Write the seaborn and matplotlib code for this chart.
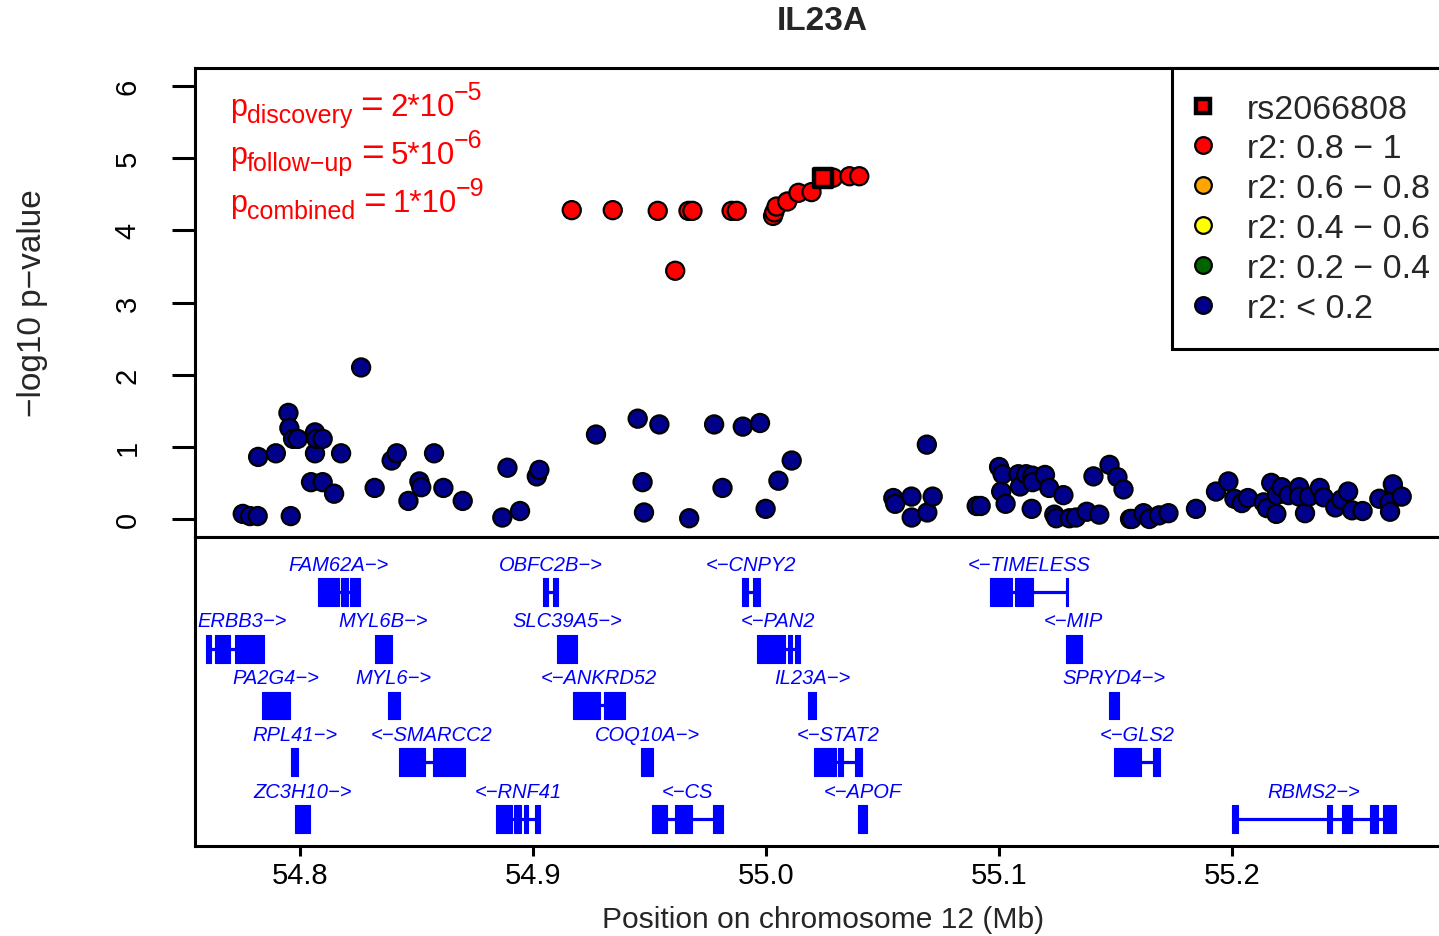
import numpy as np
import pandas as pd
import matplotlib
matplotlib.use("Agg")
import matplotlib.pyplot as plt
from matplotlib.lines import Line2D
from matplotlib import transforms as mtrans
import seaborn as sns

# ---------------- data ----------------
title = "IL23A"
xlabel = "Position on chromosome 12 (Mb)"
ylabel = "\u2212log10 p\u2212value"
x_ticks = [54.8, 54.9, 55.0, 55.1, 55.2]
y_ticks = [0, 1, 2, 3, 4, 5, 6]

blue_pos = [54.7754, 54.7785, 54.7818, 54.7820, 54.7896, 54.7950, 54.7954, 54.7960, 54.7970, 54.7990,
            54.8047, 54.8064, 54.8064, 54.8070, 54.8097, 54.8097, 54.8146, 54.8176, 54.8262, 54.8320,
            54.8393, 54.8415, 54.8465, 54.8512, 54.8520, 54.8575, 54.8615, 54.8698, 54.8868, 54.8890,
            54.8944, 54.9016, 54.9027, 54.9270, 54.9449, 54.9470, 54.9476, 54.9542, 54.9670, 54.9777,
            54.9813, 54.9900, 54.9974, 54.9998, 55.0053, 55.0110, 55.0546, 55.0554, 55.0624, 55.0625,
            55.0690, 55.0692, 55.0715, 55.0904, 55.0921, 55.1000, 55.1009, 55.1015, 55.1028, 55.1083,
            55.1090, 55.1116, 55.1140, 55.1143, 55.1144, 55.1197, 55.1215, 55.1237, 55.1245, 55.1276,
            55.1302, 55.1330, 55.1376, 55.1405, 55.1430, 55.1474, 55.1508, 55.1534, 55.1562, 55.1570,
            55.1620, 55.1645, 55.1687, 55.1727, 55.1845, 55.1931, 55.1984, 55.2010, 55.2042, 55.2068,
            55.2135, 55.2150, 55.2168, 55.2190, 55.2192, 55.2213, 55.2242, 55.2288, 55.2288, 55.2313,
            55.2330, 55.2376, 55.2393, 55.2443, 55.2469, 55.2498, 55.2515, 55.2560, 55.2632, 55.2675,
            55.2678, 55.2690, 55.2728]
blue_logp = [0.07, 0.04, 0.04, 0.86, 0.91, 1.47, 1.26, 0.04, 1.11, 1.11,
             0.51, 1.20, 0.91, 1.11, 1.11, 0.51, 0.35, 0.91, 2.10, 0.43,
             0.81, 0.91, 0.25, 0.52, 0.44, 0.91, 0.43, 0.25, 0.02, 0.71,
             0.11, 0.59, 0.68, 1.17, 1.39, 0.51, 0.09, 1.31, 0.01, 1.31,
             0.43, 1.28, 1.33, 0.14, 0.53, 0.81, 0.29, 0.21, 0.31, 0.02,
             1.03, 0.09, 0.31, 0.18, 0.18, 0.72, 0.38, 0.62, 0.21, 0.62,
             0.45, 0.62, 0.14, 0.60, 0.51, 0.61, 0.43, 0.06, 0.01, 0.33,
             0.01, 0.02, 0.10, 0.59, 0.06, 0.75, 0.58, 0.41, 0.00, 0.00,
             0.08, 0.00, 0.05, 0.08, 0.14, 0.38, 0.52, 0.28, 0.22, 0.29,
             0.23, 0.15, 0.50, 0.07, 0.33, 0.44, 0.33, 0.44, 0.31, 0.08,
             0.31, 0.43, 0.30, 0.16, 0.27, 0.38, 0.12, 0.11, 0.28, 0.23,
             0.10, 0.48, 0.31]

red_pos = [54.9166, 54.9342, 54.9535, 54.9610, 54.9667, 54.9684, 54.9852, 54.9874, 55.0030,
           55.0035, 55.0045, 55.0091, 55.0139, 55.0195, 55.0288, 55.0358, 55.0400]
red_logp = [4.28, 4.28, 4.27, 3.44, 4.27, 4.27, 4.27, 4.27, 4.20,
            4.25, 4.33, 4.40, 4.52, 4.53, 4.73, 4.75, 4.75]

index_snp = "rs2066808"
index_pos = [55.0243]
index_logp = [4.73]

legend_labels = ["rs2066808", "r2: 0.8 \u2212 1", "r2: 0.6 \u2212 0.8", "r2: 0.4 \u2212 0.6",
                 "r2: 0.2 \u2212 0.4", "r2: < 0.2"]
legend_colors = ["red", "red", "orange", "yellow", "#006400", "#00008B"]

# p-value annotations: (subscript, mantissa, exponent)
p_sub = ["discovery", "follow\u2212up", "combined"]
p_mant = ["2*10", "5*10", "1*10"]
p_exp = ["\u22125", "\u22126", "\u22129"]

# genes: name, strand, row, exons (start, end) in Mb
gene_names = ["FAM62A", "OBFC2B", "CNPY2", "TIMELESS",
              "ERBB3", "MYL6B", "SLC39A5", "PAN2", "MIP",
              "PA2G4", "MYL6", "ANKRD52", "IL23A", "SPRYD4",
              "RPL41", "SMARCC2", "COQ10A", "STAT2", "GLS2",
              "ZC3H10", "RNF41", "CS", "APOF", "RBMS2"]
gene_strand = ["+", "+", "-", "-",
               "+", "+", "+", "-", "-",
               "+", "+", "-", "+", "+",
               "+", "-", "+", "-", "-",
               "+", "-", "-", "-", "+"]
gene_row = [1, 1, 1, 1,
            2, 2, 2, 2, 2,
            3, 3, 3, 3, 3,
            4, 4, 4, 4, 4,
            5, 5, 5, 5, 5]
gene_exons = [
    [(54.8076, 54.8167), (54.8176, 54.8206), (54.8215, 54.8258)],
    [(54.9042, 54.9064), (54.9084, 54.9109)],
    [(54.9896, 54.9923), (54.9944, 54.9974)],
    [(55.0961, 55.1056), (55.1069, 55.1146), (55.1289, 55.1297)],
    [(54.7595, 54.7618), (54.7635, 54.7700), (54.7721, 54.7845)],
    [(54.8322, 54.8394)],
    [(54.9102, 54.9188)],
    [(54.9960, 55.0082), (55.0094, 55.0112), (55.0124, 55.0146)],
    [(55.1286, 55.1355)],
    [(54.7836, 54.7957)],
    [(54.8376, 54.8429)],
    [(54.9172, 54.9288), (54.9305, 54.9395)],
    [(55.0182, 55.0215)],
    [(55.1472, 55.1515)],
    [(54.7960, 54.7993)],
    [(54.8425, 54.8536), (54.8571, 54.8708)],
    [(54.9462, 54.9516)],
    [(55.0206, 55.0300), (55.0309, 55.0330), (55.0381, 55.0411)],
    [(55.1495, 55.1609), (55.1661, 55.1691)],
    [(54.7979, 54.8043)],
    [(54.8840, 54.8910), (54.8918, 54.8948), (54.8961, 54.8979), (54.9009, 54.9030)],
    [(54.9509, 54.9573), (54.9609, 54.9681), (54.9774, 54.9813)],
    [(55.0396, 55.0435)],
    [(55.2001, 55.2024), (55.2406, 55.2430), (55.2473, 55.2513), (55.2592, 55.2628), (55.2649, 55.2702)],
]

# ---------------- style ----------------
sns.set_style("white")
plt.rcParams['font.family'] = ['Liberation Sans', 'DejaVu Sans']
plt.rcParams['axes.unicode_minus'] = True

W, H = 1439, 937
fig = plt.figure(figsize=(W / 100, H / 100), dpi=100)
fig.patch.set_facecolor("white")
L = 195 / W
R = 1449 / W
ax = fig.add_axes([L, 1 - 538 / H, R - L, (538 - 69) / H])
axg = fig.add_axes([L, 1 - 847 / H, R - L, (847 - 538) / H])
renderer = fig.canvas.get_renderer()

xlim = (54.7549, 55.2931)
SPW = 2.2

# ---------------- scatter ----------------
df = pd.DataFrame({
    "pos": blue_pos + red_pos,
    "logp": blue_logp + red_logp,
    "grp": ["low"] * len(blue_pos) + ["high"] * len(red_pos),
})
sns.scatterplot(data=df, x="pos", y="logp", hue="grp",
                palette={"low": "#00008B", "high": "#FF0000"},
                s=170, edgecolor="black", linewidth=1.6, legend=False, ax=ax, zorder=3)
sns.scatterplot(x=index_pos, y=index_logp, marker="s", color="#FF0000",
                s=175, edgecolor="black", linewidth=3.2, legend=False, ax=ax, zorder=4)

ax.set_xlim(*xlim)
ax.set_ylim(-0.25, 6.25)
ax.set_yticks(y_ticks)
ax.set_yticklabels([str(v) for v in y_ticks])
ax.set_xticks([])
ax.set_xlabel("")
ax.set_ylabel("")
ax.tick_params(axis="y", left=True, length=16.5, width=SPW, labelsize=21,
               labelrotation=90, pad=22, color="black", labelcolor="black")
for lab in ax.get_yticklabels():
    lab.set_va("center")
for s in ax.spines.values():
    s.set_linewidth(SPW)
    s.set_color("black")

# p-value annotations built from pieces (main text, subscript, "=", mantissa, superscript)
ybase = [5.596, 4.931, 4.266]
x0 = 54.7700
for sub, mant, ex, yb in zip(p_sub, p_mant, p_exp, ybase):
    pieces = [("p", 22, 0, 0), (sub, 18, -7, 8), ("=", 28, -1, 7),
              (mant, 22.5, 0, -1), (ex, 18, 16, 0)]
    dx = 0.0
    for txt, fs, dy, gap in pieces:
        tr = mtrans.offset_copy(ax.transData, fig=fig, x=dx, y=dy, units="dots")
        t = ax.text(x0, yb, txt, transform=tr, color="#FF0000", fontsize=fs,
                    va="baseline", ha="left")
        bb = t.get_window_extent(renderer)
        dx += bb.width + gap

# legend
handles = []
for i, c in enumerate(legend_colors):
    if i == 0:
        handles.append(Line2D([], [], linestyle="none", marker="s", markerfacecolor=c,
                              markeredgecolor="black", markeredgewidth=3.2, markersize=9.5))
    else:
        handles.append(Line2D([], [], linestyle="none", marker="o", markerfacecolor=c,
                              markeredgecolor="black", markeredgewidth=1.6, markersize=12))
leg = fig.legend(handles, legend_labels, loc="upper left",
                 bbox_to_anchor=(1172 / W, 1 - 69 / H), bbox_transform=fig.transFigure,
                 frameon=True, fancybox=False, framealpha=1, edgecolor="black",
                 fontsize=24.5, borderaxespad=0, borderpad=0.75, handlelength=0.3,
                 handletextpad=1.15, labelspacing=0.26)
leg.get_frame().set_linewidth(SPW)

# ---------------- gene track ----------------
axg.set_xlim(*xlim)
axg.set_ylim(5.476, 0.031)
axg.set_yticks([])
axg.set_xticks(x_ticks)
axg.set_xticklabels([f"{v:.1f}" for v in x_ticks])
axg.tick_params(axis="x", bottom=True, length=7.5, width=SPW, labelsize=21, pad=3,
                color="black", labelcolor="black")
axg.set_xlabel("")
for s in axg.spines.values():
    s.set_linewidth(SPW)
    s.set_color("black")

gene_texts = []
for name, strand, row, exons in zip(gene_names, gene_strand, gene_row, gene_exons):
    gs = min(e[0] for e in exons)
    ge = max(e[1] for e in exons)
    axg.plot([gs, ge], [row, row], color="#0000FF", lw=2.3, solid_capstyle="butt", zorder=2)
    axg.broken_barh([(a, b - a) for a, b in exons], (row - 0.245, 0.49),
                    facecolors="#0000FF", edgecolor="#0000FF", linewidth=0.8, zorder=3)
    label = f"{name}\u2212>" if strand == "+" else f"<\u2212{name}"
    t = axg.text((gs + ge) / 2, row - 0.49, label, color="#0000FF", fontsize=14.5,
                 style="italic", ha="center", va="center")
    gene_texts.append(t)

# keep gene labels inside the panel (like the original)
ax_left_px = axg.get_window_extent(renderer).x0
inv = axg.transData.inverted()
for t in gene_texts:
    bb = t.get_window_extent(renderer)
    if bb.x0 < ax_left_px + 2:
        shift = ax_left_px + 2 - bb.x0
        x_disp, y_disp = axg.transData.transform(t.get_position())
        nx, ny = inv.transform((x_disp + shift, y_disp))
        t.set_position((nx, t.get_position()[1]))

# ---------------- titles / labels ----------------
fig.text(822 / W, 1 - 22 / H, title, fontsize=24, fontweight="bold", ha="center", va="center")
fig.text(33 / W, 1 - 303 / H, ylabel, fontsize=24, rotation=90, ha="center", va="center")
fig.text(823 / W, 1 - 920 / H, xlabel, fontsize=21.6, ha="center", va="center")

fig.savefig("out.png", dpi=100, facecolor="white")
